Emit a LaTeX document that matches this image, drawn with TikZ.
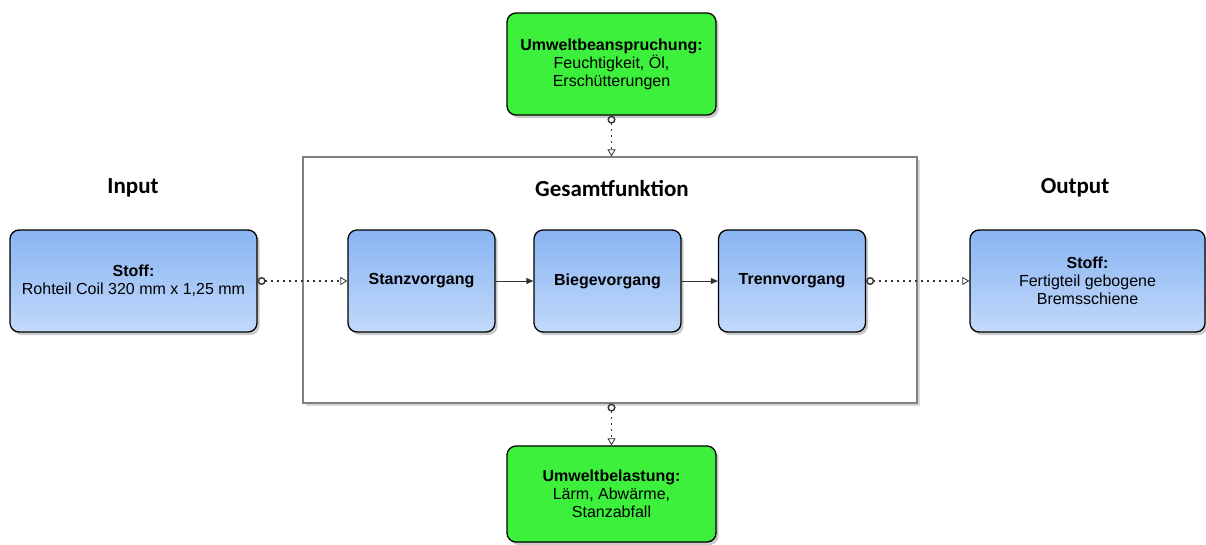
\documentclass[tikz,border=0pt]{standalone}
\usepackage{fontspec}
\setmainfont{Liberation Sans}
\newfontfamily\titlefont{Carlito}
\usetikzlibrary{arrows.meta,shadows}
\definecolor{bluetop}{HTML}{88B4F2}
\definecolor{bluebot}{HTML}{C2D9FA}
\definecolor{greenfill}{HTML}{3CF03C}
\definecolor{conncol}{HTML}{333333}
\definecolor{framecol}{HTML}{808080}
\tikzset{
  boxshadow/.style={drop shadow={shadow xshift=2.5pt,shadow yshift=-3pt,opacity=0.35,fill=black!60}},
  bluebox/.style={draw=black,line width=1.3pt,rounded corners=9pt,top color=bluetop,bottom color=bluebot,
    minimum height=102pt,align=center,boxshadow,font=\fontsize{16}{18}\selectfont},
  greenbox/.style={draw=black,line width=1.3pt,rounded corners=9pt,fill=greenfill,
    minimum width=209pt,align=center,boxshadow,font=\fontsize{16}{18}\selectfont},
  mainframe/.style={draw=framecol,line width=1.2pt,fill=white,minimum width=614pt,minimum height=246pt,
    drop shadow={shadow xshift=2.5pt,shadow yshift=-3pt,opacity=0.3,fill=black!50}},
  titletext/.style={font=\titlefont\bfseries\fontsize{23}{26}\selectfont},
  flowconn/.style={draw=conncol,line width=1.6pt,dash pattern=on 1.6pt off 4.4pt,
    {Circle[open,length=8pt,width=8pt,line width=1.4pt,sep=0pt]}-{Triangle[open,length=7pt,width=8pt,line width=0.8pt]}},
  procconn/.style={draw=conncol,line width=1pt,-{Triangle[length=7pt,width=6pt]}}
}
\begin{document}
\begin{tikzpicture}[x=1pt,y=-1pt]
\useasboundingbox (0,0) rectangle (1206,544);
\node[mainframe] (main) at (610,280) {};
\node[titletext] (tin) at (133,188) {Input};
\node[titletext] (tges) at (612,188) {Gesamtfunktion};
\node[titletext] (tout) at (1075,188) {Output};
\node[bluebox,minimum width=247pt] (inbox) at (133.5,281) {\textbf{Stoff:}\\Rohteil Coil 320 mm x 1,25 mm};
\node[bluebox,minimum width=147pt] (stanz) at (421.5,281) {\textbf{Stanzvorgang}};
\node[bluebox,minimum width=147pt] (biege) at (607.5,281) {\textbf{Biegevorgang}};
\node[bluebox,minimum width=147pt] (trenn) at (792,281) {\textbf{Trennvorgang}};
\node[bluebox,minimum width=235pt] (outbox) at (1087.5,281) {\textbf{Stoff:}\\Fertigteil gebogene\\Bremsschiene};
\node[greenbox,minimum height=102pt] (env1) at (611.5,64) {\textbf{Umweltbeanspruchung:}\\Feuchtigkeit, Öl,\\Erschütterungen};
\node[greenbox,minimum height=96pt] (env2) at (611.5,494) {\textbf{Umweltbelastung:}\\Lärm, Abwärme,\\Stanzabfall};
\draw[flowconn] (inbox.east) -- (stanz.west);
\draw[flowconn] (trenn.east) -- (outbox.west);
\draw[flowconn] (env1.south) -- (env1.south |- main.north);
\draw[flowconn] (env2.north |- main.south) -- (env2.north);
\draw[procconn] (stanz.east) -- (biege.west);
\draw[procconn] (biege.east) -- (trenn.west);
\end{tikzpicture}
\end{document}
